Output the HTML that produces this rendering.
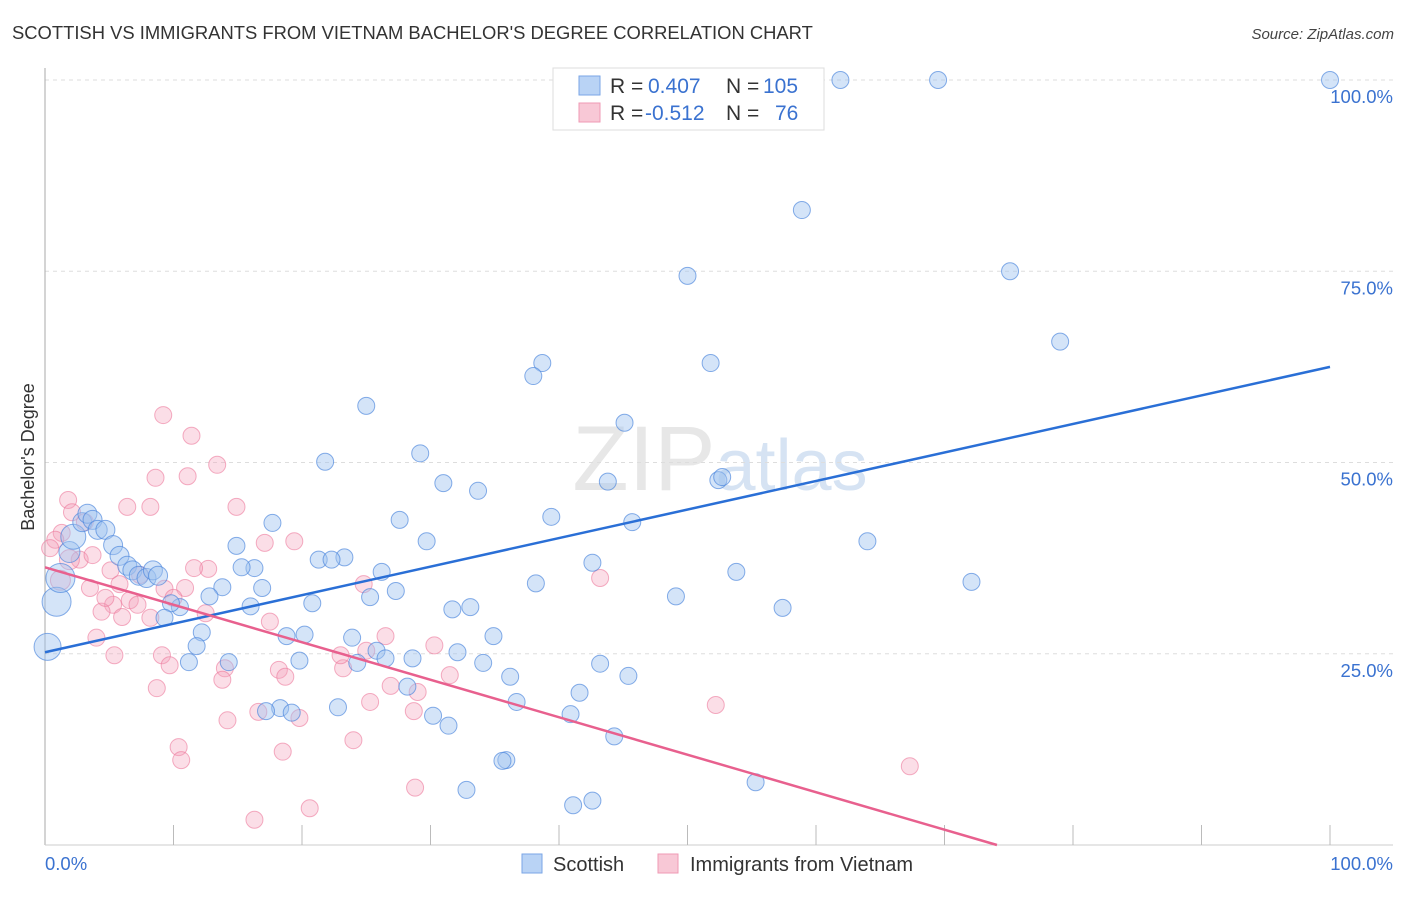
<!DOCTYPE html>
<html><head><meta charset="utf-8"><style>
body{margin:0;background:#fff;font-family:"Liberation Sans",sans-serif;}
svg text{font-family:"Liberation Sans",sans-serif;}
</style></head><body>
<svg id="chart" width="1406" height="892" xmlns="http://www.w3.org/2000/svg">
<text x="12" y="39" font-size="18.4" fill="#333">SCOTTISH VS IMMIGRANTS FROM VIETNAM BACHELOR'S DEGREE CORRELATION CHART</text>
<text x="1394" y="39" font-size="15" fill="#444" text-anchor="end" font-style="italic">Source: ZipAtlas.com</text>
<text x="720" y="490" font-size="92" fill="#ddd" text-anchor="middle" font-family="Liberation Serif" opacity="0.7">ZIP<tspan fill="#c5d8ef" font-family="Liberation Sans" font-size="72">atlas</tspan></text>
<g id="grid"></g>
<g id="axes"></g>
<g id="marks"></g>
<text transform="translate(34,457) rotate(-90)" font-size="18" fill="#333" text-anchor="middle">Bachelor's Degree</text>
<g>
<rect x="553" y="68" width="271" height="62" fill="#fff" stroke="#ddd"/>
<rect x="579" y="76" width="21" height="19" fill="#b9d3f5" stroke="#7aa6e6"/>
<rect x="579" y="103" width="21" height="19" fill="#f8c8d6" stroke="#ef9ab4"/>
<text x="610" y="93" font-size="21" fill="#333">R = </text><text x="648" y="93" font-size="21" fill="#3a72d0">0.407</text>
<text x="726" y="93" font-size="21" fill="#333">N = </text><text x="763" y="93" font-size="21" fill="#3a72d0">105</text>
<text x="610" y="120" font-size="21" fill="#333">R = </text><text x="645" y="120" font-size="21" fill="#3a72d0">-0.512</text>
<text x="726" y="120" font-size="21" fill="#333">N = </text><text x="775" y="120" font-size="21" fill="#3a72d0">76</text>
</g>
<g>
<rect x="522" y="854" width="20" height="19" fill="#b9d3f5" stroke="#7aa6e6"/>
<text x="553" y="871" font-size="20" fill="#333">Scottish</text>
<rect x="658" y="854" width="20" height="19" fill="#f8c8d6" stroke="#ef9ab4"/>
<text x="690" y="871" font-size="20" fill="#333">Immigrants from Vietnam</text>
</g>
</svg>
<script>
const blueX=[61.9,69.5,100,58.9,50.0,75.1,79.0,51.8,38.7,38.0,25.0,45.1,29.2,21.8,31.0,33.7,43.8,52.4,52.7,39.4,45.7,27.6,17.7,64.0,29.7,14.9,23.3,21.3,22.3,16.3,15.3,26.2,42.6,53.8,72.1,38.2,16.9,27.3,49.1,25.3,13.8,12.8,16.0,20.8,57.4,31.7,33.1,10.5,9.8,9.3,12.2,18.8,20.2,23.9,34.9,11.8,25.8,32.1,26.5,28.6,14.3,11.2,19.8,24.3,34.1,43.2,36.2,45.4,41.6,28.2,36.7,18.3,17.2,19.2,22.8,30.2,31.4,40.9,44.3,35.9,35.6,55.3,32.8,42.6,41.1,0.2,0.9,1.2,1.9,2.2,2.9,3.3,3.7,4.1,4.7,5.3,5.8,6.4,6.8,7.3,7.9,8.4,8.8];
const blueY=[100,100,100,83.0,74.4,75.0,65.8,63.0,63.0,61.3,57.4,55.2,51.2,50.1,47.3,46.3,47.5,47.7,48.1,42.9,42.2,42.5,42.1,39.7,39.7,39.1,37.6,37.3,37.3,36.2,36.3,35.7,36.9,35.7,34.4,34.2,33.6,33.2,32.5,32.4,33.7,32.5,31.2,31.6,31.0,30.8,31.1,31.1,31.6,29.7,27.8,27.3,27.5,27.1,27.3,26.0,25.4,25.2,24.4,24.4,23.9,23.9,24.1,23.8,23.8,23.7,22.0,22.1,19.9,20.7,18.7,17.9,17.5,17.3,18.0,16.9,15.6,17.1,14.2,11.1,11.0,8.2,7.2,5.8,5.2,25.9,31.8,34.9,38.3,40.3,42.2,43.3,42.5,41.2,41.2,39.2,37.8,36.5,35.9,35.2,34.9,35.9,35.2];
const blueR=[8,8,8,8,8,8,8,8,8,8,8,8,8,8,8,8,8,8,8,8,8,8,8,8,8,8,8,8,8,8,8,8,8,8,8,8,8,8,8,8,8,8,8,8,8,8,8,8,8,8,8,8,8,8,8,8,8,8,8,8,8,8,8,8,8,8,8,8,8,8,8,8,8,8,8,8,8,8,8,8,8,8,8,8,8,13,14,14,10,12,9,9,9,9,9,9,9,9,9,9,9,9,9];
const pinkX=[9.2,11.4,13.4,8.6,11.1,8.2,14.9,1.8,2.1,6.4,3.1,1.3,0.8,0.4,2.7,3.7,5.1,7.4,9.3,10.9,12.7,11.6,17.1,19.4,10.0,12.5,5.3,6.0,8.2,4.4,6.6,7.2,3.5,4.7,5.8,4.0,5.4,9.1,9.7,8.7,14.0,13.8,17.5,18.2,18.7,23.2,23.0,25.0,26.5,24.8,30.3,31.5,26.9,29.0,25.3,28.7,16.6,14.2,10.4,10.6,19.8,18.5,24.0,43.2,52.2,67.3,16.3,20.6,28.8,1.2,1.9];
const pinkY=[56.2,53.5,49.7,48.0,48.2,44.2,44.2,45.1,43.5,44.2,42.2,40.8,39.9,38.8,37.3,37.9,35.9,35.3,33.5,33.6,36.1,36.2,39.5,39.7,32.3,30.3,31.4,29.8,29.7,30.5,32.0,31.4,33.6,32.3,34.1,27.1,24.8,24.8,23.5,20.5,23.1,21.6,29.2,22.9,22.0,23.1,24.8,25.4,27.3,34.1,26.1,22.2,20.8,20.0,18.7,17.5,17.4,16.3,12.8,11.1,16.6,12.2,13.7,34.9,18.3,10.3,3.3,4.8,7.5,34.6,37.3];
const blueFit=[25.2,62.5];
const pinkFit=[36.3,-12.7];
const yTicks=[25,50,75,100];
const xTickLabels=["0.0%","100.0%"];

const X0=45,X1=1330,Y0=845,Y100=80;
const sx=v=>X0+(X1-X0)*v/100;
const sy=v=>Y0-(Y0-Y100)*v/100;
const NS="http://www.w3.org/2000/svg";
function mk(tag,attrs,parent){const e=document.createElementNS(NS,tag);for(const k in attrs)e.setAttribute(k,attrs[k]);parent.appendChild(e);return e;}
const grid=document.getElementById('grid'),axes=document.getElementById('axes'),marks=document.getElementById('marks');
yTicks.forEach(t=>{
  const l=mk('line',{x1:X0,x2:1393,y1:sy(t),y2:sy(t),stroke:'#ddd','stroke-dasharray':'4,4'},grid);
  
  
  const tx=mk('text',{x:1393,y:sy(t)+23,'font-size':18.5,fill:'#3a72d0','text-anchor':'end'},axes);
  tx.textContent=t.toFixed(1)+'%';
  
  
});
const ya=mk('line',{x1:X0,x2:X0,y1:68,y2:Y0,stroke:'#aaa'},axes);


const xa=mk('line',{x1:X0,x2:1393,y1:Y0,y2:Y0,stroke:'#ccc'},axes);


for(let i=1;i<=10;i++){
  const t=mk('line',{x1:sx(i*10),x2:sx(i*10),y1:Y0-20,y2:Y0,stroke:'#bbb'},axes);
  
  
}
const xl0=mk('text',{x:X0,y:870,'font-size':18.5,fill:'#3a72d0'},axes);xl0.textContent=xTickLabels[0];


const xl1=mk('text',{x:1393,y:870,'font-size':18.5,fill:'#3a72d0','text-anchor':'end'},axes);xl1.textContent=xTickLabels[1];



pinkX.forEach((x,i)=>{
  const c=mk('circle',{cx:sx(x),cy:sy(pinkY[i]),r:(i>=69?10:8.5),fill:'rgba(244,160,185,0.35)',stroke:'rgba(236,120,155,0.6)','stroke-width':1},marks);
  
  
});
blueX.forEach((x,i)=>{
  const c=mk('circle',{cx:sx(x),cy:sy(blueY[i]),r:blueR[i]+0.5,fill:'rgba(160,195,240,0.45)',stroke:'rgba(70,130,220,0.65)','stroke-width':1},marks);
  
  
});
const bl=mk('line',{x1:sx(0),y1:sy(blueFit[0]),x2:sx(100),y2:sy(blueFit[1]),stroke:'#2a6fd6','stroke-width':2.5},marks);


const xz=100*pinkFit[0]/(pinkFit[0]-pinkFit[1]);
const pl=mk('line',{x1:sx(0),y1:sy(pinkFit[0]),x2:sx(xz),y2:sy(0),stroke:'#e8608e','stroke-width':2.5},marks);


</script>
</body></html>
